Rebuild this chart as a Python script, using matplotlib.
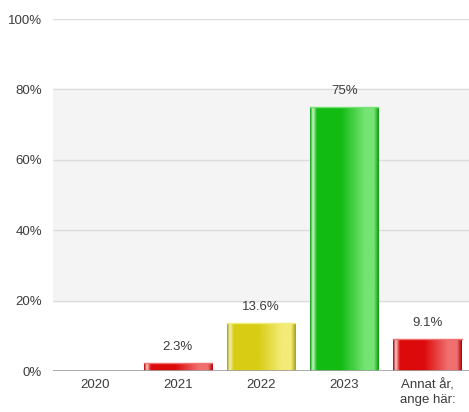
import numpy as np
import matplotlib
matplotlib.use("Agg")
from matplotlib import pyplot as plt
from matplotlib.colors import LinearSegmentedColormap

plt.rcParams['font.family'] = ['Liberation Sans', 'DejaVu Sans']

# data
categories = ['2020', '2021', '2022', '2023', 'Annat år,\nange här:']
values = [0.0, 2.3, 13.6, 75.0, 9.1]
labels = ['', '2.3%', '13.6%', '75%', '9.1%']
yticks = [0, 20, 40, 60, 80, 100]

# bar colour sets: dark edge, highlight, base, light
palettes = [
    ('#b00000', '#f8c8c8', '#dc0a0a', '#f07070'),
    ('#b00000', '#f8c8c8', '#dc0a0a', '#f07070'),
    ('#a8a010', '#f4f0b0', '#d8cc14', '#f2ec78'),
    ('#0c9a0c', '#c8f4c8', '#12bb12', '#74e474'),
    ('#b00000', '#f8c8c8', '#dc0a0a', '#f07070'),
]

fig = plt.figure(figsize=(4.69, 4.12), dpi=100)
ax = fig.add_axes([53/469, 41/412, 416/469, 352/412])

ax.set_xlim(-0.5, len(categories) - 0.5)
ax.set_ylim(0, 100)

# shaded band between 20% and 80%
ax.axhspan(20, 80, color='#f4f4f4', zorder=0)
for t in yticks[1:]:
    ax.axhline(t, color='#dcdcdc', lw=1, zorder=1)
ax.axhline(0, color='#a0a0a0', lw=1.2, zorder=4)

x = np.arange(len(categories))
bars = ax.bar(x, values, width=0.82, color='none', zorder=2)

grad = np.linspace(0, 1, 256).reshape(1, -1)
for b, pal in zip(bars, palettes):
    h = b.get_height()
    if h <= 0:
        continue
    dark, hi, base, light = pal
    cmap = LinearSegmentedColormap.from_list(
        'g', [(0, dark), (0.04, hi), (0.10, base), (0.45, base),
              (0.80, light), (0.93, light), (1.0, dark)])
    x0 = b.get_x()
    im = ax.imshow(grad, cmap=cmap, aspect='auto', zorder=3,
                   extent=(x0, x0 + b.get_width(), 0, h))
    im.set_clip_path(b)
    ax.plot([x0, x0 + b.get_width()], [h, h], color=light, lw=1, zorder=3)

for xi, v, lab in zip(x, values, labels):
    if lab:
        ax.annotate(lab, (xi, v), xytext=(0, 7), textcoords='offset points',
                    ha='center', va='bottom', fontsize=9.5, color='#3c3c3c')

ax.set_xlim(-0.5, len(categories) - 0.5)
ax.set_ylim(0, 100)
ax.set_xticks(x)
ax.set_xticklabels(categories, fontsize=9.5, color='#3c3c3c', linespacing=1.25)
ax.set_yticks(yticks)
ax.set_yticklabels([f'{t}%' for t in yticks], fontsize=9.5, color='#3c3c3c')
ax.tick_params(length=0, pad=8)
ax.tick_params(axis='x', pad=6)
for s in ax.spines.values():
    s.set_visible(False)

fig.savefig('out.png', dpi=100)
